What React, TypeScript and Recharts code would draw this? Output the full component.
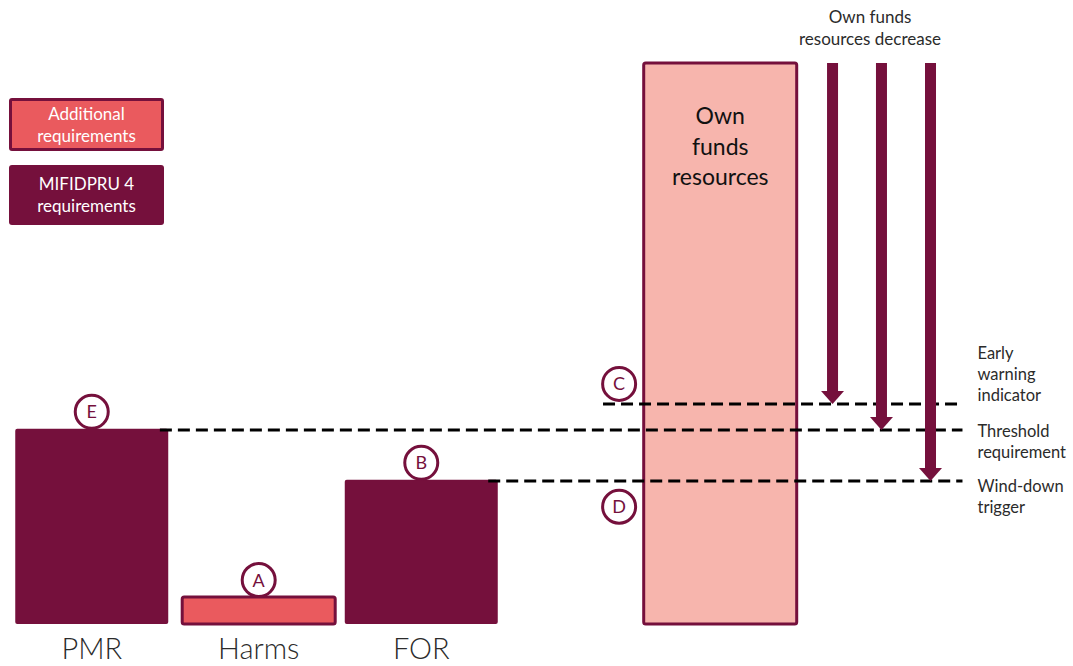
import { Bar, Cell, ComposedChart, LabelList, ReferenceDot, ReferenceLine, XAxis, YAxis } from 'recharts';

// columns of the diagram
const columns = ['PMR', 'Harms', 'FOR', 'Own funds resources'];
const columnValues = [34.8, 4.8, 25.7, 100];
const columnSlots = [8.53, 24.09, 39.24, 67.1];
const columnTags = ['E', 'A', 'B', ''];
const columnKinds = ['mifidpru', 'additional', 'mifidpru', 'ownFunds'];

// threshold levels (dashed lines)
const levels = ['Early warning indicator', 'Threshold requirement', 'Wind-down trigger'];
const levelValues = [39.2, 34.6, 25.5];
const levelStarts = [56.2, 14.9, 45.5];
const levelEnd = 89.7;
const levelLabelLines = [['Early', 'warning', 'indicator'], ['Threshold', 'requirement'], ['Wind-down', 'trigger']];

// own funds decrease arrows, one per level
const arrowSlots = [77.59, 82.15, 86.72];

const markers = ['C', 'D'];
const markerValues = [42.8, 20.9];
const markerSlot = 57.7;

const legendLines = [['Additional', 'requirements'], ['MIFIDPRU 4', 'requirements']];

const MAROON = '#75103c';
const RED = '#ea5a5e';
const PINK = '#f7b5ad';
const TEXT = '#2b2b2b';
const FONT = 'Lato, "Open Sans", sans-serif';

const rows = columns.map((name, i) => ({
  name,
  x: columnSlots[i],
  value: columnValues[i],
  tag: columnTags[i],
  kind: columnKinds[i],
  axisLabel: columnKinds[i] === 'ownFunds' ? '' : name,
  inside: columnKinds[i] === 'ownFunds' ? name : '',
}));

const kindStyle: Record<string, { fill: string; stroke: string; strokeWidth: number }> = {
  mifidpru: { fill: MAROON, stroke: 'none', strokeWidth: 0 },
  additional: { fill: RED, stroke: MAROON, strokeWidth: 3 },
  ownFunds: { fill: PINK, stroke: MAROON, strokeWidth: 3 },
};

function Circled({ cx, cy, letter }: { cx: number; cy: number; letter: string }) {
  return (
    <g>
      <circle cx={cx} cy={cy} r={16.5} fill="#fff" stroke={MAROON} strokeWidth={3} />
      <text x={cx} y={cy + 6.5} textAnchor="middle" fontSize={18} fill={MAROON} fontFamily={FONT}>
        {letter}
      </text>
    </g>
  );
}

function TagLabel(props: any) {
  const { x, y, width, value } = props;
  if (!value) return null;
  return <Circled cx={Number(x) + Number(width) / 2} cy={Number(y) - 17} letter={String(value)} />;
}

function AxisLabel(props: any) {
  const { x, y, width, height, value } = props;
  if (!value) return null;
  return (
    <text x={Number(x) + Number(width) / 2} y={Number(y) + Number(height) + 35} textAnchor="middle" fontSize={29} fill={TEXT} fontFamily={FONT} fontWeight={300}>
      {value}
    </text>
  );
}

function InsideLabel(props: any) {
  const { x, y, width, value } = props;
  if (!value) return null;
  const words = String(value).split(' ');
  return (
    <text x={Number(x) + Number(width) / 2} y={Number(y) + 61} textAnchor="middle" fontSize={23} fill="#111" fontFamily={FONT}>
      {words.map((w, i) => (
        <tspan key={w} x={Number(x) + Number(width) / 2} dy={i === 0 ? 0 : 30.5}>
          {w}
        </tspan>
      ))}
    </text>
  );
}

function Arrow(props: any) {
  const { x1, y1, y2 } = props;
  const head = 13;
  return (
    <g>
      <rect x={x1 - 5.5} y={y1} width={11} height={y2 - y1 - head + 1} fill={MAROON} />
      <polygon points={`${x1 - 11.5},${y2 - head} ${x1 + 11.5},${y2 - head} ${x1},${y2}`} fill={MAROON} />
    </g>
  );
}

const labelShift = [-45, 7, 11];

function levelLabel(i: number) {
  return (props: any) => {
    const vb = props.viewBox || {};
    const endX = Number(vb.x) + Number(vb.width);
    const baseY = Number(vb.y) + labelShift[i];
    return (
      <text x={endX + 15} y={baseY} fontSize={16.5} fill={TEXT} fontFamily={FONT}>
        {levelLabelLines[i].map((line, j) => (
          <tspan key={line} x={endX + 15} dy={j === 0 ? 0 : 21}>
            {line}
          </tspan>
        ))}
      </text>
    );
  };
}

const legendBox = {
  position: 'absolute' as const,
  left: 9,
  width: 155,
  borderRadius: 3,
  color: '#fff',
  fontSize: 17,
  lineHeight: '22px',
  textAlign: 'center' as const,
  display: 'flex',
  alignItems: 'center',
  justifyContent: 'center',
  boxSizing: 'border-box' as const,
};

export default function App() {
  return (
    <div style={{ position: 'absolute', left: 0, top: 0, width: 1073, height: 666, background: '#fff', fontFamily: FONT }}>
      <ComposedChart width={1073} height={666} data={rows} margin={{ top: 63, right: 0, bottom: 42, left: 0 }}>
        <XAxis type="number" dataKey="x" domain={[0, 100]} hide />
        <YAxis type="number" domain={[0, 100]} hide />
        <Bar dataKey="value" barSize={153} radius={2} isAnimationActive={false}>
          {rows.map((r) => (
            <Cell key={r.name} {...kindStyle[r.kind]} />
          ))}
          <LabelList dataKey="tag" content={TagLabel} />
          <LabelList dataKey="axisLabel" content={AxisLabel} />
          <LabelList dataKey="inside" content={InsideLabel} />
        </Bar>
        {levels.map((name, i) => (
          <ReferenceLine
            key={name}
            segment={[{ x: levelStarts[i], y: levelValues[i] }, { x: levelEnd, y: levelValues[i] }]}
            stroke="#000"
            strokeWidth={3}
            strokeDasharray="12 6"
            label={{ content: levelLabel(i) }}
          />
        ))}
        {arrowSlots.map((x, i) => (
          <ReferenceLine key={`arrow-${levels[i]}`} segment={[{ x, y: 100 }, { x, y: levelValues[i] }]} shape={Arrow} />
        ))}
        {markers.map((m, i) => (
          <ReferenceDot key={m} x={markerSlot} y={markerValues[i]} r={16.5} shape={(p: any) => <Circled cx={p.cx} cy={p.cy} letter={m} />} />
        ))}
      </ComposedChart>

      <div style={{ position: 'absolute', left: 770, top: 6, width: 200, textAlign: 'center', fontSize: 17, lineHeight: '22px', color: TEXT }}>
        Own funds
        <br />
        resources decrease
      </div>

      <div style={{ ...legendBox, top: 98, height: 53, background: RED, border: `3px solid ${MAROON}` }}>
        <span>
          {legendLines[0][0]}
          <br />
          {legendLines[0][1]}
        </span>
      </div>
      <div style={{ ...legendBox, top: 165, height: 60, background: MAROON }}>
        <span>
          {legendLines[1][0]}
          <br />
          {legendLines[1][1]}
        </span>
      </div>
    </div>
  );
}
